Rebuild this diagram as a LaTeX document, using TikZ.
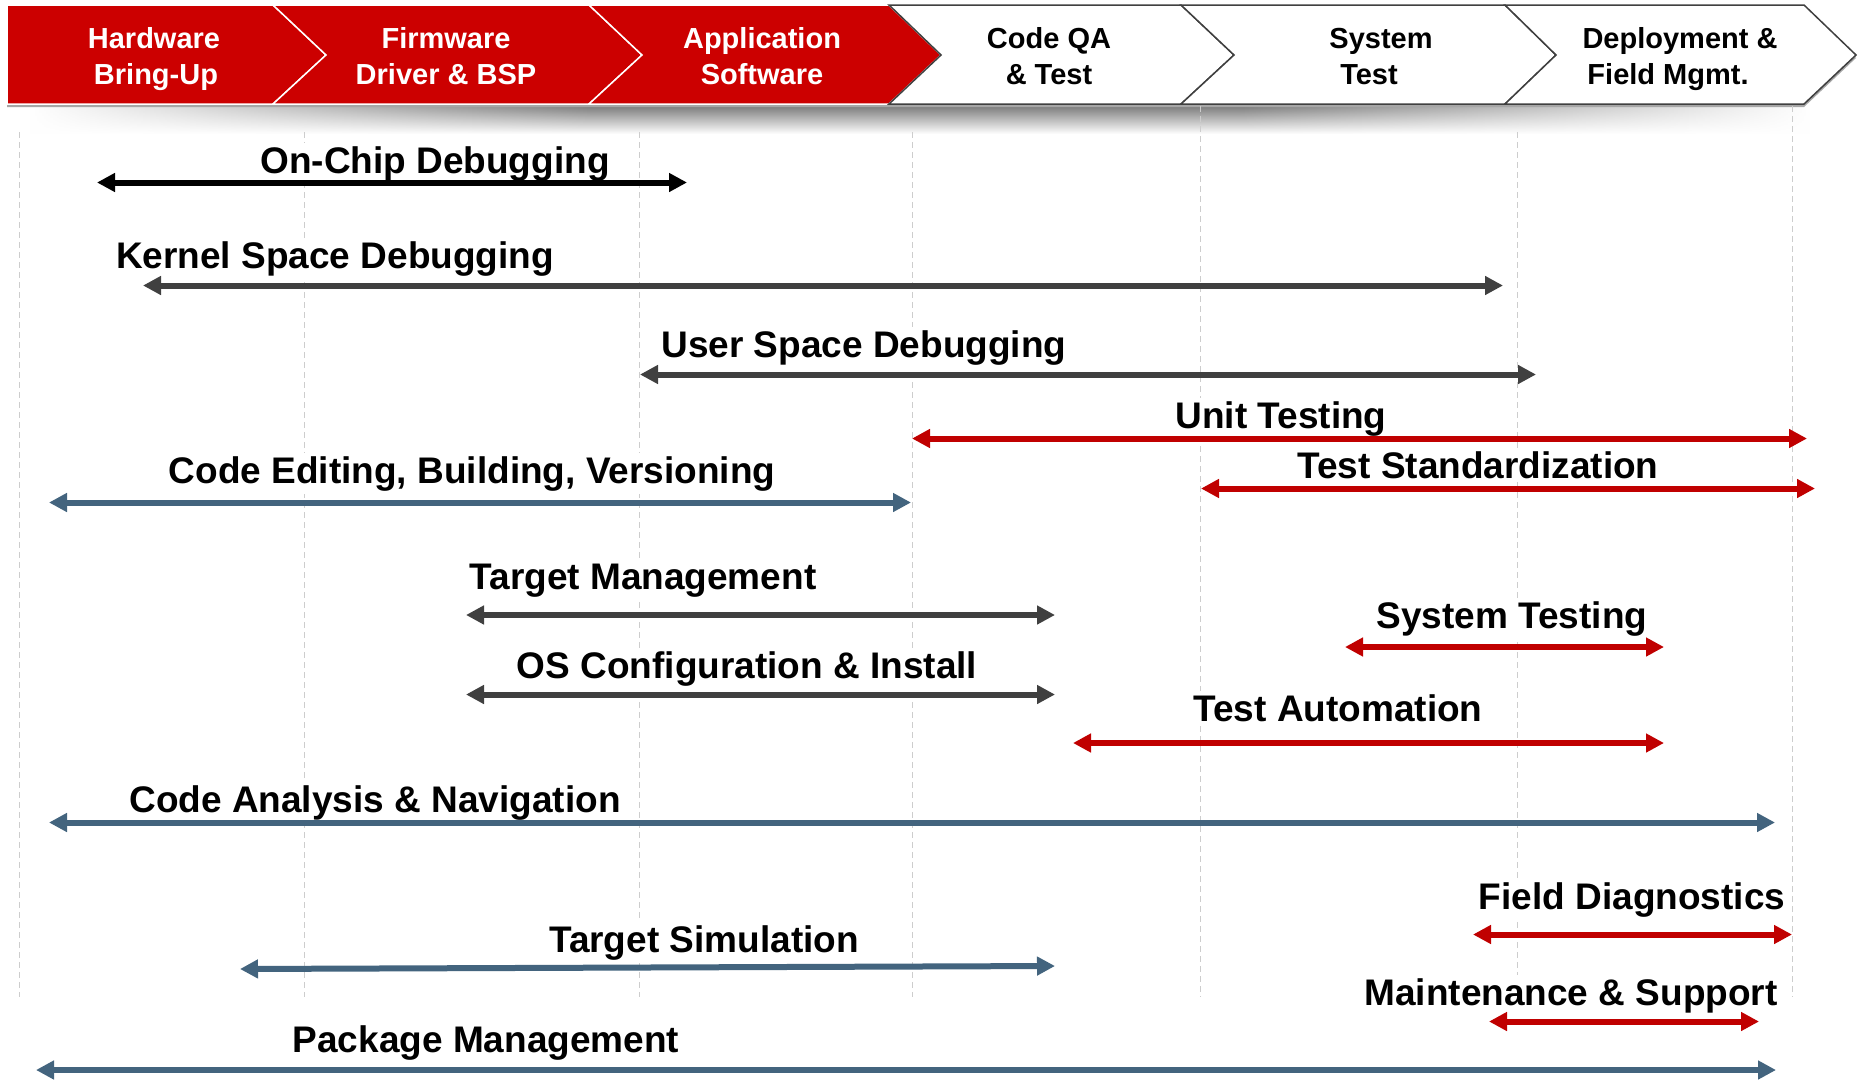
\documentclass[tikz,border=0pt]{standalone}
\usepackage{fontspec}
\setmainfont{Liberation Sans}
\usetikzlibrary{arrows.meta,fadings}

\definecolor{hdrred}{RGB}{204,0,0}
\definecolor{arrred}{RGB}{192,0,0}
\definecolor{arrblue}{RGB}{67,100,126}
\definecolor{arrgray}{RGB}{64,64,64}
\definecolor{gridgray}{RGB}{205,205,205}
\definecolor{chevline}{RGB}{64,64,64}

\tikzfading[name=fadeinright, left color=transparent!100, right color=transparent!0]
\tikzfading[name=fadeoutright, left color=transparent!0, right color=transparent!100]

\tikzset{
  lbl/.style={font=\fontsize{37}{44}\selectfont\bfseries, fill=white, inner sep=3pt, anchor=base},
  hdrw/.style={font=\fontsize{29}{35}\selectfont\bfseries, text=white, anchor=base, inner sep=0pt},
  hdrk/.style={font=\fontsize{29}{35}\selectfont\bfseries, text=black, anchor=base, inner sep=0pt},
  redchev/.style={fill=hdrred, draw=white, line width=1.5pt, line join=miter},
  whitechev/.style={fill=white, draw=chevline, line width=1.5pt, line join=miter},
  gridline/.style={draw=gridgray, line width=1pt, dash pattern=on 6pt off 4pt},
  spanarrow/.style={line width=6pt, {Triangle[length=18pt,width=18pt]}-{Triangle[length=18pt,width=18pt]}},
  hdrshadow/.style={top color=black!55, bottom color=white},
}

\begin{document}
\begin{tikzpicture}[x=1pt,y=-1pt]
\useasboundingbox (0,0) rectangle (1858,1079);
\fill[white] (0,0) rectangle (1858,1079);

% shadow below header
\shade[hdrshadow, path fading=fadeinright] (30,104) rectangle (591,134);
\shade[hdrshadow] (590,104) rectangle (1241,134);
\shade[hdrshadow, path fading=fadeoutright] (1240,104) rectangle (1810,134);

% header drop shadow
\fill[gray!70] (7,8) -- (1804,8) -- (1856,58) -- (1804,107) -- (7,107) -- cycle;

% chevrons
\path[redchev] (7,5) -- (273,5) -- (326,55) -- (273,104) -- (7,104) -- cycle;
\path[redchev] (273,5) -- (589,5) -- (642,55) -- (589,104) -- (273,104) -- (326,55) -- cycle;
\path[redchev] (589,5) -- (889,5) -- (941,55) -- (889,104) -- (589,104) -- (642,55) -- cycle;
\path[whitechev] (889,5) -- (1181,5) -- (1234,55) -- (1181,104) -- (889,104) -- (941,55) -- cycle;
\path[whitechev] (1181,5) -- (1505,5) -- (1556,55) -- (1505,104) -- (1181,104) -- (1234,55) -- cycle;
\path[whitechev] (1505,5) -- (1804,5) -- (1856,55) -- (1804,104) -- (1505,104) -- (1556,55) -- cycle;

% header texts
\node[hdrw] (h1a) at (154,48) {Hardware};
\node[hdrw] (h1b) at (156,84) {Bring-Up};
\node[hdrw] (h2a) at (446,48) {Firmware};
\node[hdrw] (h2b) at (446,84) {Driver \& BSP};
\node[hdrw] (h3a) at (762,48) {Application};
\node[hdrw] (h3b) at (762,84) {Software};
\node[hdrk] (h4a) at (1049,48) {Code QA};
\node[hdrk] (h4b) at (1049,84) {\& Test};
\node[hdrk] (h5a) at (1381,48) {System};
\node[hdrk] (h5b) at (1369,84) {Test};
\node[hdrk] (h6a) at (1680,48) {Deployment \&};
\node[hdrk] (h6b) at (1668,84) {Field Mgmt.};

% grid lines
\foreach \gx/\gy in {19/132, 304/132, 639/132, 912/132, 1200/106, 1517/132, 1792/106}
  \draw[gridline] (\gx,\gy) -- (\gx,997);

% labels
\node[lbl] (l1)  at (435,173)  {On-Chip Debugging};
\node[lbl] (l2)  at (335,268)  {Kernel Space Debugging};
\node[lbl] (l3)  at (864,357)  {User Space Debugging};
\node[lbl] (l4)  at (1281,428) {Unit Testing};
\node[lbl] (l5)  at (1478,478) {Test Standardization};
\node[lbl] (l6)  at (472,483)  {Code Editing, Building, Versioning};
\node[lbl] (l7)  at (643,589)  {Target Management};
\node[lbl] (l8)  at (747,678)  {OS Configuration \& Install};
\node[lbl] (l9)  at (1512,628) {System Testing};
\node[lbl] (l10) at (1338,721) {Test Automation};
\node[lbl] (l11) at (375,812)  {Code Analysis \& Navigation};
\node[lbl] (l12) at (1632,909) {Field Diagnostics};
\node[lbl] (l13) at (704,952)  {Target Simulation};
\node[lbl] (l14) at (1571,1005) {Maintenance \& Support};
\node[lbl] (l15) at (486,1052) {Package Management};

% arrow end points
\coordinate (a1l) at (97,182.5);   \coordinate (a1r) at (687,182.5);
\coordinate (a2l) at (143,285.5);  \coordinate (a2r) at (1503,285.5);
\coordinate (a3l) at (640,374.5);  \coordinate (a3r) at (1536,374.5);
\coordinate (a4l) at (912,438.5);  \coordinate (a4r) at (1807,438.5);
\coordinate (a5l) at (1201,488.5); \coordinate (a5r) at (1815,488.5);
\coordinate (a6l) at (49,502.5);   \coordinate (a6r) at (911,502.5);
\coordinate (a7l) at (466,615);    \coordinate (a7r) at (1055,615);
\coordinate (a8l) at (466,694.5);  \coordinate (a8r) at (1055,694.5);
\coordinate (a9l) at (1345,647);   \coordinate (a9r) at (1664,647);
\coordinate (a10l) at (1073,743);  \coordinate (a10r) at (1664,743);
\coordinate (a11l) at (49,822.5);  \coordinate (a11r) at (1775,822.5);
\coordinate (a12l) at (1473,934.5); \coordinate (a12r) at (1792,934.5);
\coordinate (a13l) at (240,969);   \coordinate (a13r) at (1055,966);
\coordinate (a14l) at (1489,1021.5); \coordinate (a14r) at (1759,1021.5);
\coordinate (a15l) at (36,1070);   \coordinate (a15r) at (1776,1070);

% arrows
\draw[spanarrow, black]    (a1l) -- (a1r);
\draw[spanarrow, arrgray]  (a2l) -- (a2r);
\draw[spanarrow, arrgray]  (a3l) -- (a3r);
\draw[spanarrow, arrred]   (a4l) -- (a4r);
\draw[spanarrow, arrred]   (a5l) -- (a5r);
\draw[spanarrow, arrblue]  (a6l) -- (a6r);
\draw[spanarrow, arrgray]  (a7l) -- (a7r);
\draw[spanarrow, arrgray]  (a8l) -- (a8r);
\draw[spanarrow, arrred]   (a9l) -- (a9r);
\draw[spanarrow, arrred]   (a10l) -- (a10r);
\draw[spanarrow, arrblue]  (a11l) -- (a11r);
\draw[spanarrow, arrred]   (a12l) -- (a12r);
\draw[spanarrow, arrblue]  (a13l) -- (a13r);
\draw[spanarrow, arrred]   (a14l) -- (a14r);
\draw[spanarrow, arrblue]  (a15l) -- (a15r);
\end{tikzpicture}
\end{document}
